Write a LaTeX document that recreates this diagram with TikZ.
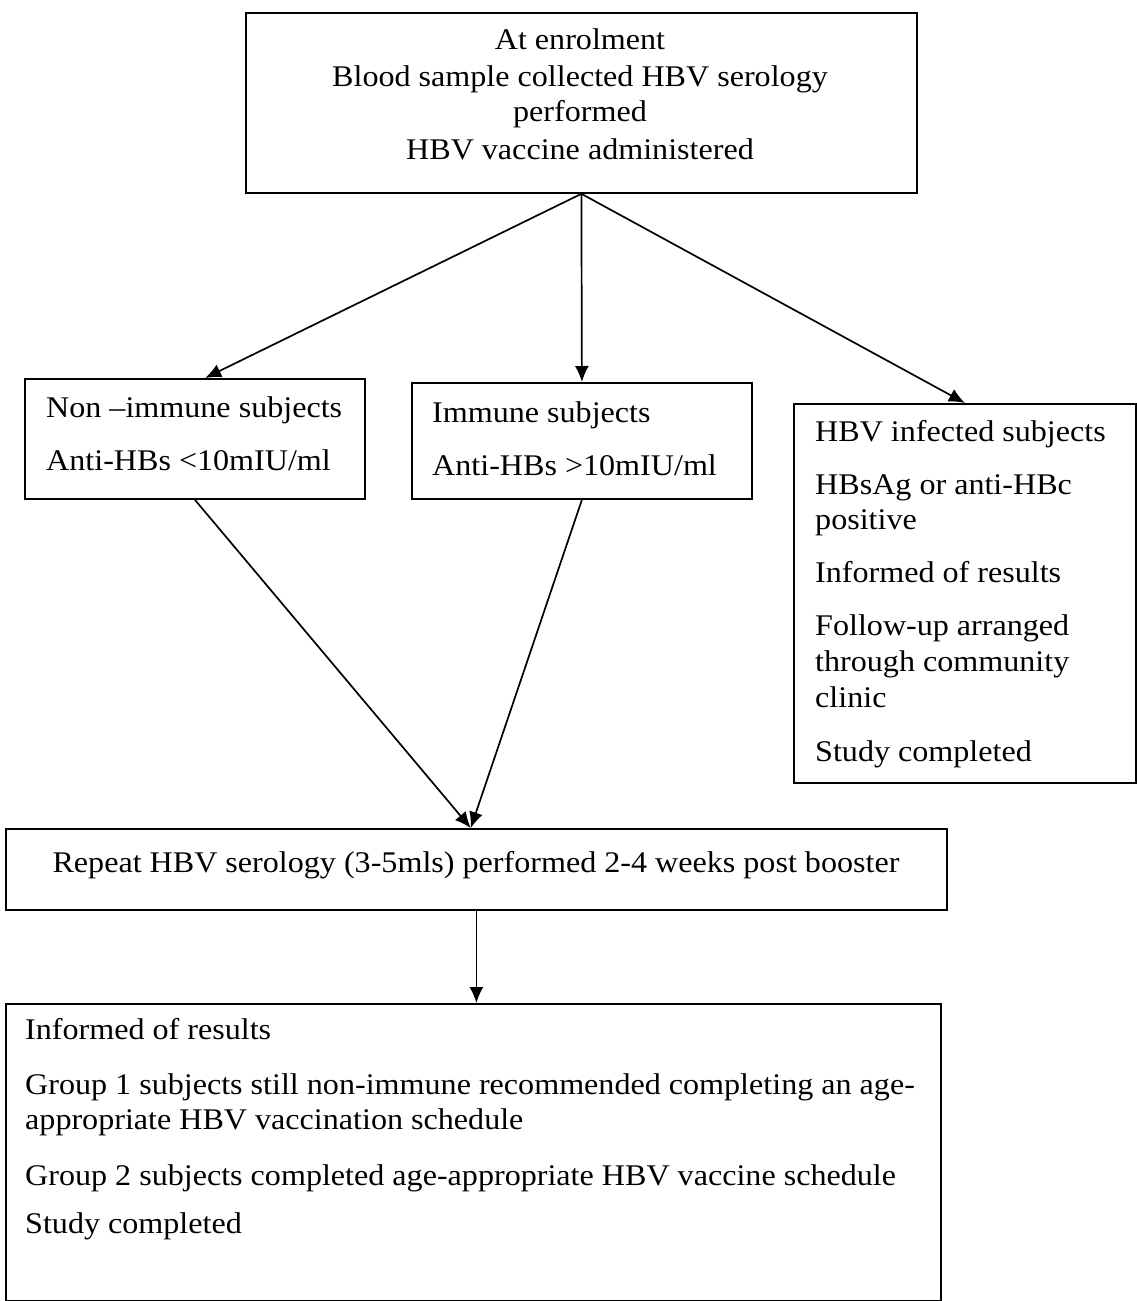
\documentclass[tikz,border=0pt]{standalone}
\usepackage{fontspec}
\setmainfont[FakeStretch=1.07]{Liberation Serif}
\usetikzlibrary{arrows.meta,calc}
\begin{document}
\begin{tikzpicture}[x=1pt,y=-1pt,
  box/.style={draw,line width=1.8pt,inner sep=0pt,anchor=north west},
  txt/.style={inner sep=0pt,font=\fontsize{30}{36}\selectfont},
  lt/.style={txt,anchor=base west},
  ct/.style={txt,anchor=base},
  arr/.style={line width=1.7pt,-{Latex[length=16pt,width=14pt]}}]
\useasboundingbox (0,0) rectangle (1137,1301);
\node[box,minimum width=671pt,minimum height=180pt] (top) at (245,12) {};
\node[box,minimum width=340pt,minimum height=120pt] (non) at (24,378) {};
\node[box,minimum width=340pt,minimum height=116pt] (imm) at (411,382) {};
\node[box,minimum width=342pt,minimum height=379pt] (hbv) at (793,403) {};
\node[box,minimum width=941pt,minimum height=81pt] (rep) at (5,828) {};
\node[box,minimum width=935pt,minimum height=297pt] (bot) at (5,1003) {};
% top text
\node[ct] (t1) at (580,49) {At enrolment};
\node[ct] (t2) at (580,86) {Blood sample collected HBV serology};
\node[ct] (t3) at (580,121) {performed};
\node[ct] (t4) at (580,159) {HBV vaccine administered};
% non-immune
\node[lt] (n1) at (46,417) {Non –immune subjects};
\node[lt] (n2) at (46,470) {Anti-HBs <10mIU/ml};
% immune
\node[lt] (i1) at (432,422) {Immune subjects};
\node[lt] (i2) at (432,475) {Anti-HBs >10mIU/ml};
% hbv infected
\node[lt] (h1) at (815,441) {HBV infected subjects};
\node[lt] (h2) at (815,494) {HBsAg or anti-HBc};
\node[lt] (h3) at (815,529) {positive};
\node[lt] (h4) at (815,582) {Informed of results};
\node[lt] (h5) at (815,635) {Follow-up arranged};
\node[lt] (h6) at (815,671) {through community};
\node[lt] (h7) at (815,707) {clinic};
\node[lt] (h8) at (815,761) {Study completed};
% repeat
\node[ct] (r1) at (476,872) {Repeat HBV serology (3-5mls) performed 2-4 weeks post booster};
% bottom
\node[lt] (b1) at (25,1039) {Informed of results};
\node[lt] (b2) at (25,1094) {Group 1 subjects still non-immune recommended completing an age-};
\node[lt] (b3) at (25,1129) {appropriate HBV vaccination schedule};
\node[lt] (b4) at (25,1185) {Group 2 subjects completed age-appropriate HBV vaccine schedule};
\node[lt] (b5) at (25,1233) {Study completed};
% arrows
\draw[arr] (top.south) -- ($(non.north west)!0.53!(non.north east)$);
\draw[arr] (top.south) -- (imm.north);
\draw[arr] (top.south) -- (hbv.north);
\draw[arr] (non.south) -- ($(rep.north west)!0.494!(rep.north east)$);
\draw[arr] (imm.south) -- ($(rep.north west)!0.494!(rep.north east)$);
\draw[arr] (rep.south) -- (rep.south |- bot.north);
\end{tikzpicture}
\end{document}
